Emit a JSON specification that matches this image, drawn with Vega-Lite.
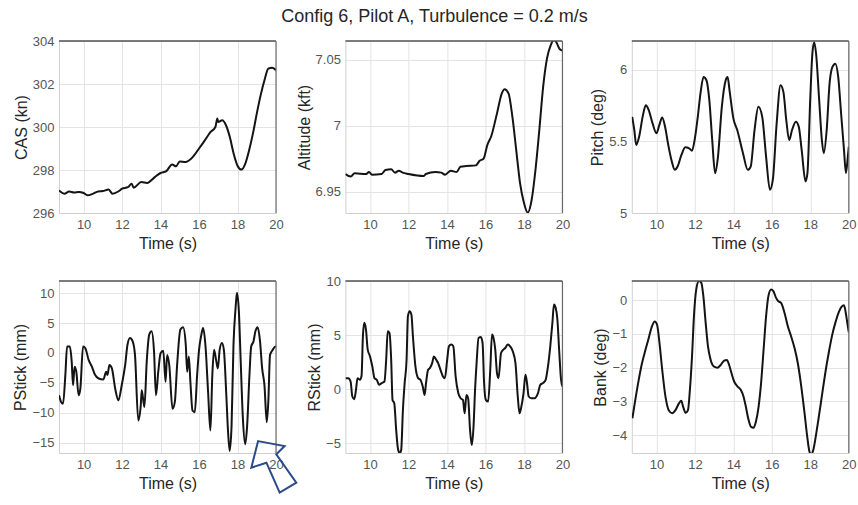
{
  "$schema": "https://vega.github.io/schema/vega-lite/v6.json",
  "background": "white",
  "padding": {"left": 12, "top": 8, "right": 2, "bottom": 2},
  "title": {"text": "Config 6, Pilot A, Turbulence = 0.2 m/s", "font": "Liberation Sans", "fontSize": 18, "fontWeight": "normal", "color": "#262626", "offset": 9, "anchor": "middle"},
  "config": {
    "view": {"stroke": null},
    "axis": {"labelFont": "Liberation Sans", "titleFont": "Liberation Sans", "labelFontSize": 13, "titleFontSize": 16, "labelColor": "#555555", "titleColor": "#262626", "titleFontWeight": "normal", "grid": true, "gridColor": "#e4e4e4", "domainColor": "#d0d0d0", "ticks": false, "tickSize": 0, "labelPadding": 5, "labelFlush": false, "labelOverlap": false, "labelSeparation": 0},
    "axisX": {"titlePadding": 4},
    "axisY": {"titlePadding": 3, "labelOverlap": false}
  },
  "datasets": {
    "cas": [{"t":8.72,"v":297.05},{"t":9.0,"v":296.9},{"t":9.25,"v":297.0},{"t":9.5,"v":296.95},{"t":9.75,"v":296.98},{"t":10,"v":296.93},{"t":10.2,"v":296.82},{"t":10.5,"v":296.9},{"t":10.75,"v":297.0},{"t":11,"v":297.02},{"t":11.3,"v":297.09},{"t":11.5,"v":296.9},{"t":11.8,"v":297.0},{"t":12,"v":297.13},{"t":12.3,"v":297.2},{"t":12.5,"v":297.36},{"t":12.6,"v":297.18},{"t":13,"v":297.44},{"t":13.3,"v":297.4},{"t":13.7,"v":297.67},{"t":14,"v":297.86},{"t":14.3,"v":297.95},{"t":14.6,"v":298.26},{"t":14.8,"v":298.17},{"t":15,"v":298.4},{"t":15.3,"v":298.37},{"t":15.6,"v":298.53},{"t":16,"v":299.0},{"t":16.3,"v":299.38},{"t":16.6,"v":299.77},{"t":16.85,"v":300.0},{"t":16.95,"v":300.39},{"t":17.0,"v":300.23},{"t":17.2,"v":300.31},{"t":17.4,"v":300.08},{"t":17.6,"v":299.53},{"t":17.8,"v":298.76},{"t":18.0,"v":298.2},{"t":18.2,"v":298.02},{"t":18.4,"v":298.29},{"t":18.6,"v":298.91},{"t":18.8,"v":299.69},{"t":19.0,"v":300.62},{"t":19.2,"v":301.47},{"t":19.4,"v":302.17},{"t":19.6,"v":302.71},{"t":19.8,"v":302.76},{"t":20.0,"v":302.64}],
    "alt": [{"t":8.72,"v":6.9635},{"t":9.0,"v":6.9615},{"t":9.2,"v":6.964},{"t":9.8,"v":6.9635},{"t":9.95,"v":6.965},{"t":10.1,"v":6.963},{"t":10.6,"v":6.9635},{"t":10.8,"v":6.9665},{"t":11.1,"v":6.967},{"t":11.3,"v":6.9645},{"t":11.5,"v":6.966},{"t":11.7,"v":6.9645},{"t":12.0,"v":6.9635},{"t":12.8,"v":6.962},{"t":12.9,"v":6.9635},{"t":13.4,"v":6.965},{"t":13.7,"v":6.9645},{"t":13.9,"v":6.963},{"t":14.2,"v":6.966},{"t":14.5,"v":6.965},{"t":14.7,"v":6.969},{"t":15.0,"v":6.9695},{"t":15.5,"v":6.97},{"t":15.7,"v":6.9735},{"t":15.9,"v":6.975},{"t":16.1,"v":6.9855},{"t":16.3,"v":6.992},{"t":16.6,"v":7.0093},{"t":16.85,"v":7.0244},{"t":17.0,"v":7.0275},{"t":17.2,"v":7.0244},{"t":17.4,"v":7.0068},{"t":17.6,"v":6.9816},{"t":17.8,"v":6.9564},{"t":18.0,"v":6.9418},{"t":18.2,"v":6.9343},{"t":18.4,"v":6.9438},{"t":18.6,"v":6.9665},{"t":18.8,"v":6.9967},{"t":19.0,"v":7.0295},{"t":19.2,"v":7.0509},{"t":19.4,"v":7.061},{"t":19.55,"v":7.065},{"t":19.7,"v":7.0627},{"t":19.85,"v":7.058},{"t":20.0,"v":7.0567}],
    "pitch": [{"t":8.74,"v":5.671},{"t":8.85,"v":5.579},{"t":8.95,"v":5.475},{"t":9.1,"v":5.532},{"t":9.3,"v":5.683},{"t":9.45,"v":5.752},{"t":9.6,"v":5.718},{"t":9.8,"v":5.625},{"t":10.0,"v":5.556},{"t":10.15,"v":5.613},{"t":10.3,"v":5.667},{"t":10.45,"v":5.602},{"t":10.6,"v":5.486},{"t":10.8,"v":5.359},{"t":10.95,"v":5.301},{"t":11.1,"v":5.324},{"t":11.3,"v":5.405},{"t":11.5,"v":5.458},{"t":11.7,"v":5.451},{"t":11.85,"v":5.435},{"t":12.0,"v":5.521},{"t":12.15,"v":5.671},{"t":12.3,"v":5.845},{"t":12.45,"v":5.949},{"t":12.6,"v":5.926},{"t":12.75,"v":5.787},{"t":12.9,"v":5.509},{"t":13.05,"v":5.278},{"t":13.2,"v":5.394},{"t":13.4,"v":5.741},{"t":13.6,"v":5.926},{"t":13.7,"v":5.949},{"t":13.8,"v":5.856},{"t":14.0,"v":5.66},{"t":14.2,"v":5.579},{"t":14.5,"v":5.417},{"t":14.75,"v":5.301},{"t":14.9,"v":5.324},{"t":15.1,"v":5.579},{"t":15.3,"v":5.741},{"t":15.5,"v":5.671},{"t":15.7,"v":5.394},{"t":15.9,"v":5.162},{"t":16.05,"v":5.231},{"t":16.25,"v":5.625},{"t":16.45,"v":5.891},{"t":16.6,"v":5.845},{"t":16.75,"v":5.648},{"t":16.9,"v":5.509},{"t":17.05,"v":5.579},{"t":17.25,"v":5.637},{"t":17.4,"v":5.602},{"t":17.55,"v":5.44},{"t":17.75,"v":5.22},{"t":17.85,"v":5.278},{"t":18.0,"v":5.81},{"t":18.1,"v":6.1},{"t":18.2,"v":6.192},{"t":18.3,"v":6.111},{"t":18.45,"v":5.81},{"t":18.6,"v":5.509},{"t":18.7,"v":5.417},{"t":18.85,"v":5.579},{"t":19.0,"v":5.903},{"t":19.15,"v":6.019},{"t":19.3,"v":6.042},{"t":19.45,"v":5.949},{"t":19.6,"v":5.694},{"t":19.75,"v":5.44},{"t":19.85,"v":5.278},{"t":19.95,"v":5.394},{"t":20.0,"v":5.463}],
    "pstick": [{"t":8.72,"v":-7.09},{"t":8.83,"v":-8.22},{"t":8.93,"v":-8.5},{"t":9.05,"v":-3.7},{"t":9.14,"v":1.09},{"t":9.28,"v":1.09},{"t":9.38,"v":-1.45},{"t":9.45,"v":-5.4},{"t":9.53,"v":-2.3},{"t":9.62,"v":-3.14},{"t":9.74,"v":-7.09},{"t":9.83,"v":-5.96},{"t":9.97,"v":1.09},{"t":10.09,"v":0.8},{"t":10.26,"v":-1.17},{"t":10.43,"v":-2.3},{"t":10.6,"v":-3.7},{"t":10.78,"v":-4.27},{"t":11.03,"v":-4.44},{"t":11.17,"v":-3.14},{"t":11.24,"v":-3.7},{"t":11.34,"v":-2.0},{"t":11.47,"v":-2.58},{"t":11.64,"v":-5.96},{"t":11.81,"v":-7.94},{"t":11.98,"v":-5.4},{"t":12.16,"v":-2.0},{"t":12.28,"v":1.37},{"t":12.41,"v":2.5},{"t":12.55,"v":1.93},{"t":12.67,"v":-0.32},{"t":12.84,"v":-11.3},{"t":12.97,"v":-8.78},{"t":13.02,"v":-6.24},{"t":13.16,"v":-9.06},{"t":13.28,"v":-1.45},{"t":13.41,"v":3.06},{"t":13.53,"v":3.63},{"t":13.66,"v":0.24},{"t":13.76,"v":-7.09},{"t":13.88,"v":-3.14},{"t":14.0,"v":-0.04},{"t":14.14,"v":0.36},{"t":14.26,"v":-4.83},{"t":14.34,"v":-0.32},{"t":14.45,"v":-2.0},{"t":14.62,"v":-9.35},{"t":14.74,"v":-8.22},{"t":14.86,"v":-2.0},{"t":15.03,"v":3.91},{"t":15.17,"v":4.3},{"t":15.31,"v":1.37},{"t":15.38,"v":-3.14},{"t":15.47,"v":-0.6},{"t":15.55,"v":-4.83},{"t":15.66,"v":-9.63},{"t":15.78,"v":-9.91},{"t":15.9,"v":-3.7},{"t":16.0,"v":0.52},{"t":16.12,"v":3.06},{"t":16.21,"v":4.19},{"t":16.33,"v":1.37},{"t":16.47,"v":-6.53},{"t":16.59,"v":-13.0},{"t":16.69,"v":-3.7},{"t":16.78,"v":0.52},{"t":16.9,"v":-1.45},{"t":16.98,"v":-2.58},{"t":17.07,"v":0.52},{"t":17.19,"v":1.65},{"t":17.29,"v":0.52},{"t":17.41,"v":-6.53},{"t":17.5,"v":-12.73},{"t":17.59,"v":-16.4},{"t":17.69,"v":-12.17},{"t":17.79,"v":1.37},{"t":17.9,"v":7.57},{"t":17.97,"v":10.1},{"t":18.07,"v":7.0},{"t":18.16,"v":-0.89},{"t":18.28,"v":-11.04},{"t":18.4,"v":-15.27},{"t":18.5,"v":-12.17},{"t":18.62,"v":-3.7},{"t":18.71,"v":1.09},{"t":18.83,"v":1.93},{"t":18.93,"v":3.63},{"t":19.05,"v":4.3},{"t":19.17,"v":1.93},{"t":19.28,"v":-2.58},{"t":19.4,"v":-5.4},{"t":19.52,"v":-11.6},{"t":19.6,"v":-8.22},{"t":19.69,"v":-0.32},{"t":19.83,"v":0.52},{"t":19.97,"v":1.09},{"t":20.0,"v":1.09}],
    "rstick": [{"t":8.73,"v":1.02},{"t":8.87,"v":1.02},{"t":8.99,"v":0.71},{"t":9.08,"v":-0.68},{"t":9.18,"v":-0.93},{"t":9.27,"v":-0.06},{"t":9.35,"v":1.02},{"t":9.48,"v":0.87},{"t":9.56,"v":1.24},{"t":9.63,"v":4.89},{"t":9.7,"v":6.13},{"t":9.79,"v":5.51},{"t":9.88,"v":3.65},{"t":10.0,"v":3.03},{"t":10.12,"v":2.1},{"t":10.23,"v":1.02},{"t":10.35,"v":0.87},{"t":10.47,"v":0.4},{"t":10.61,"v":0.56},{"t":10.75,"v":0.71},{"t":10.84,"v":2.72},{"t":10.92,"v":5.36},{"t":11.01,"v":5.2},{"t":11.1,"v":2.72},{"t":11.17,"v":-0.99},{"t":11.26,"v":-1.3},{"t":11.36,"v":-3.78},{"t":11.45,"v":-5.48},{"t":11.54,"v":-5.94},{"t":11.62,"v":-5.63},{"t":11.71,"v":-1.92},{"t":11.8,"v":0.56},{"t":11.9,"v":2.72},{"t":11.97,"v":6.75},{"t":12.06,"v":7.21},{"t":12.15,"v":6.9},{"t":12.23,"v":4.89},{"t":12.36,"v":2.1},{"t":12.5,"v":1.02},{"t":12.62,"v":0.87},{"t":12.74,"v":0.25},{"t":12.84,"v":-0.53},{"t":12.91,"v":0.56},{"t":13.02,"v":1.8},{"t":13.11,"v":1.95},{"t":13.23,"v":2.41},{"t":13.32,"v":3.03},{"t":13.44,"v":2.72},{"t":13.54,"v":2.41},{"t":13.66,"v":1.8},{"t":13.79,"v":1.18},{"t":13.89,"v":1.02},{"t":14.01,"v":2.72},{"t":14.1,"v":3.96},{"t":14.22,"v":4.12},{"t":14.33,"v":3.96},{"t":14.45,"v":1.18},{"t":14.59,"v":-0.37},{"t":14.71,"v":-0.84},{"t":14.83,"v":-0.99},{"t":14.92,"v":-2.23},{"t":15.01,"v":-0.53},{"t":15.1,"v":-0.84},{"t":15.2,"v":-3.78},{"t":15.29,"v":-5.17},{"t":15.38,"v":-3.47},{"t":15.46,"v":-0.06},{"t":15.55,"v":2.72},{"t":15.64,"v":4.74},{"t":15.76,"v":4.83},{"t":15.85,"v":4.27},{"t":15.93,"v":0.56},{"t":16.02,"v":-0.99},{"t":16.14,"v":-1.15},{"t":16.25,"v":1.8},{"t":16.34,"v":5.05},{"t":16.42,"v":4.74},{"t":16.51,"v":3.65},{"t":16.6,"v":1.49},{"t":16.68,"v":1.02},{"t":16.81,"v":3.34},{"t":16.93,"v":3.65},{"t":17.03,"v":3.81},{"t":17.16,"v":4.12},{"t":17.28,"v":3.96},{"t":17.42,"v":3.5},{"t":17.56,"v":2.41},{"t":17.68,"v":-0.68},{"t":17.77,"v":-2.23},{"t":17.85,"v":-1.76},{"t":17.98,"v":-0.37},{"t":18.08,"v":1.33},{"t":18.15,"v":0.71},{"t":18.25,"v":-0.68},{"t":18.38,"v":-0.84},{"t":18.55,"v":-0.84},{"t":18.73,"v":-0.37},{"t":18.85,"v":0.4},{"t":18.99,"v":0.56},{"t":19.13,"v":0.87},{"t":19.25,"v":2.1},{"t":19.37,"v":3.96},{"t":19.48,"v":6.13},{"t":19.56,"v":7.83},{"t":19.65,"v":7.52},{"t":19.74,"v":6.44},{"t":19.83,"v":3.65},{"t":19.93,"v":0.87},{"t":20.0,"v":0.25}],
    "bank": [{"t":8.75,"v":-3.5},{"t":8.9,"v":-2.96},{"t":9.08,"v":-2.36},{"t":9.25,"v":-1.87},{"t":9.43,"v":-1.47},{"t":9.6,"v":-1.12},{"t":9.77,"v":-0.77},{"t":9.91,"v":-0.63},{"t":10.03,"v":-0.72},{"t":10.16,"v":-1.27},{"t":10.3,"v":-2.06},{"t":10.47,"v":-2.86},{"t":10.64,"v":-3.26},{"t":10.82,"v":-3.35},{"t":10.99,"v":-3.26},{"t":11.17,"v":-3.06},{"t":11.29,"v":-2.98},{"t":11.39,"v":-3.16},{"t":11.52,"v":-3.34},{"t":11.64,"v":-3.26},{"t":11.74,"v":-2.66},{"t":11.85,"v":-1.67},{"t":11.95,"v":-0.48},{"t":12.07,"v":0.32},{"t":12.21,"v":0.57},{"t":12.33,"v":0.52},{"t":12.44,"v":0.12},{"t":12.56,"v":-0.67},{"t":12.68,"v":-1.37},{"t":12.82,"v":-1.77},{"t":13.0,"v":-1.97},{"t":13.17,"v":-2.0},{"t":13.34,"v":-1.92},{"t":13.52,"v":-1.79},{"t":13.66,"v":-1.77},{"t":13.78,"v":-1.92},{"t":13.9,"v":-2.16},{"t":14.04,"v":-2.41},{"t":14.22,"v":-2.56},{"t":14.39,"v":-2.66},{"t":14.53,"v":-2.86},{"t":14.65,"v":-3.16},{"t":14.77,"v":-3.5},{"t":14.91,"v":-3.75},{"t":15.05,"v":-3.78},{"t":15.17,"v":-3.6},{"t":15.31,"v":-3.16},{"t":15.44,"v":-2.46},{"t":15.57,"v":-1.47},{"t":15.7,"v":-0.48},{"t":15.82,"v":0.12},{"t":15.96,"v":0.32},{"t":16.08,"v":0.27},{"t":16.22,"v":0.07},{"t":16.34,"v":-0.03},{"t":16.48,"v":-0.08},{"t":16.66,"v":-0.38},{"t":16.83,"v":-0.77},{"t":17.0,"v":-1.07},{"t":17.18,"v":-1.42},{"t":17.35,"v":-1.87},{"t":17.53,"v":-2.56},{"t":17.7,"v":-3.35},{"t":17.84,"v":-4.05},{"t":17.96,"v":-4.5},{"t":18.05,"v":-4.57},{"t":18.15,"v":-4.45},{"t":18.28,"v":-4.05},{"t":18.43,"v":-3.5},{"t":18.61,"v":-2.8},{"t":18.78,"v":-2.15},{"t":18.96,"v":-1.55},{"t":19.13,"v":-1.05},{"t":19.31,"v":-0.65},{"t":19.48,"v":-0.35},{"t":19.62,"v":-0.2},{"t":19.75,"v":-0.15},{"t":19.85,"v":-0.4},{"t":19.93,"v":-0.7},{"t":20.0,"v":-0.95}],
    "arrow": [{"t": 19.88, "v": -19.07}]
  },
  "columns": 3,
  "spacing": {"row": 68, "column": 69.4},
  "bounds": "flush",
  "concat": [
    {
      "width": 217, "height": 172,
      "layer": [
        {"data": {"name": "cas"}, "mark": {"type": "line", "color": "#141414", "strokeWidth": 2, "interpolate": "monotone", "clip": true},
         "encoding": {
           "x": {"field": "t", "type": "quantitative", "scale": {"domain": [8.72, 20], "nice": false, "zero": false}, "axis": {"title": "Time (s)", "values": [10, 12, 14, 16, 18, 20], "labelOverlap": false}},
           "y": {"field": "v", "type": "quantitative", "scale": {"domain": [296, 304], "nice": false, "zero": false}, "axis": {"title": "CAS (kn)", "values": [296, 298, 300, 302, 304], "format": "~r", "labelOverlap": false}}}},
        {"data": {"values": [{}]}, "mark": {"type": "rule", "color": "#505050", "strokeWidth": 1.3}, "encoding": {"y": {"datum": 304}}},
        {"data": {"values": [{}]}, "mark": {"type": "rule", "color": "#606060", "strokeWidth": 1.1}, "encoding": {"x": {"datum": 20}}}
      ]
    },
    {
      "width": 217, "height": 172,
      "layer": [
        {"data": {"name": "alt"}, "mark": {"type": "line", "color": "#141414", "strokeWidth": 2, "interpolate": "monotone", "clip": true},
         "encoding": {
           "x": {"field": "t", "type": "quantitative", "scale": {"domain": [8.72, 20], "nice": false, "zero": false}, "axis": {"title": "Time (s)", "values": [10, 12, 14, 16, 18, 20], "labelOverlap": false}},
           "y": {"field": "v", "type": "quantitative", "scale": {"domain": [6.934, 7.064], "nice": false, "zero": false}, "axis": {"title": "Altitude (kft)", "values": [6.95, 7, 7.05], "format": "~r", "labelOverlap": false}}}},
        {"data": {"values": [{}]}, "mark": {"type": "rule", "color": "#505050", "strokeWidth": 1.3}, "encoding": {"y": {"datum": 7.064}}},
        {"data": {"values": [{}]}, "mark": {"type": "rule", "color": "#606060", "strokeWidth": 1.1}, "encoding": {"x": {"datum": 20}}}
      ]
    },
    {
      "width": 217, "height": 172,
      "layer": [
        {"data": {"name": "pitch"}, "mark": {"type": "line", "color": "#141414", "strokeWidth": 2, "interpolate": "monotone", "clip": true},
         "encoding": {
           "x": {"field": "t", "type": "quantitative", "scale": {"domain": [8.72, 20], "nice": false, "zero": false}, "axis": {"title": "Time (s)", "values": [10, 12, 14, 16, 18, 20], "labelOverlap": false}},
           "y": {"field": "v", "type": "quantitative", "scale": {"domain": [5, 6.2], "nice": false, "zero": false}, "axis": {"title": "Pitch (deg)", "values": [5, 5.5, 6], "format": "~r", "labelOverlap": false}}}},
        {"data": {"values": [{}]}, "mark": {"type": "rule", "color": "#505050", "strokeWidth": 1.3}, "encoding": {"y": {"datum": 6.2}}},
        {"data": {"values": [{}]}, "mark": {"type": "rule", "color": "#606060", "strokeWidth": 1.1}, "encoding": {"x": {"datum": 20}}}
      ]
    },
    {
      "width": 217, "height": 172,
      "layer": [
        {"data": {"name": "pstick"}, "mark": {"type": "line", "color": "#141414", "strokeWidth": 2, "interpolate": "monotone", "clip": true},
         "encoding": {
           "x": {"field": "t", "type": "quantitative", "scale": {"domain": [8.72, 20], "nice": false, "zero": false}, "axis": {"title": "Time (s)", "values": [10, 12, 14, 16, 18, 20], "labelOverlap": false}},
           "y": {"field": "v", "type": "quantitative", "scale": {"domain": [-16.75, 12.05], "nice": false, "zero": false}, "axis": {"title": "PStick (mm)", "values": [-15, -10, -5, 0, 5, 10], "tickCount": 6, "labelOverlap": false, "labelSeparation": 0, "labelBound": false}}}},
        {"data": {"values": [{}]}, "mark": {"type": "rule", "color": "#505050", "strokeWidth": 1.3}, "encoding": {"y": {"datum": 12.05, "axis": {"title": "PStick (mm)", "values": [-15, -10, -5, 0, 5, 10], "tickCount": 6, "labelOverlap": false, "labelSeparation": 0, "labelBound": false}}}},
        {"data": {"values": [{}]}, "mark": {"type": "rule", "color": "#606060", "strokeWidth": 1.1}, "encoding": {"x": {"datum": 20}}},
        {"data": {"name": "arrow"}, "mark": {"type": "point", "shape": "M -0.6 -0.99 L 0.42 -0.8 L 0.1 -0.48 L 0.87 0.61 L 0.23 0.99 L -0.28 -0.16 L -0.86 0.03 Z", "size": 2704, "filled": false, "stroke": "#2b4a8b", "strokeWidth": 2, "opacity": 1, "strokeJoin": "miter"},
         "encoding": {
           "x": {"field": "t", "type": "quantitative", "axis": {"title": "Time (s)", "values": [10, 12, 14, 16, 18, 20], "labelOverlap": false}},
           "y": {"field": "v", "type": "quantitative", "axis": {"title": "PStick (mm)", "values": [-15, -10, -5, 0, 5, 10], "tickCount": 6, "labelOverlap": false, "labelSeparation": 0, "labelBound": false}}}}
      ]
    },
    {
      "width": 217, "height": 172,
      "layer": [
        {"data": {"name": "rstick"}, "mark": {"type": "line", "color": "#141414", "strokeWidth": 2, "interpolate": "monotone", "clip": true},
         "encoding": {
           "x": {"field": "t", "type": "quantitative", "scale": {"domain": [8.72, 20], "nice": false, "zero": false}, "axis": {"title": "Time (s)", "values": [10, 12, 14, 16, 18, 20], "labelOverlap": false}},
           "y": {"field": "v", "type": "quantitative", "scale": {"domain": [-5.9, 10], "nice": false, "zero": false}, "axis": {"title": "RStick (mm)", "values": [-5, 0, 5, 10], "format": "~r", "labelOverlap": false}}}},
        {"data": {"values": [{}]}, "mark": {"type": "rule", "color": "#505050", "strokeWidth": 1.3}, "encoding": {"y": {"datum": 10}}},
        {"data": {"values": [{}]}, "mark": {"type": "rule", "color": "#606060", "strokeWidth": 1.1}, "encoding": {"x": {"datum": 20}}}
      ]
    },
    {
      "width": 217, "height": 172,
      "layer": [
        {"data": {"name": "bank"}, "mark": {"type": "line", "color": "#141414", "strokeWidth": 2, "interpolate": "monotone", "clip": true},
         "encoding": {
           "x": {"field": "t", "type": "quantitative", "scale": {"domain": [8.72, 20], "nice": false, "zero": false}, "axis": {"title": "Time (s)", "values": [10, 12, 14, 16, 18, 20], "labelOverlap": false}},
           "y": {"field": "v", "type": "quantitative", "scale": {"domain": [-4.53, 0.57], "nice": false, "zero": false}, "axis": {"title": "Bank (deg)", "values": [-4, -3, -2, -1, 0], "format": "~r", "labelOverlap": false}}}},
        {"data": {"values": [{}]}, "mark": {"type": "rule", "color": "#505050", "strokeWidth": 1.3}, "encoding": {"y": {"datum": 0.57}}},
        {"data": {"values": [{}]}, "mark": {"type": "rule", "color": "#606060", "strokeWidth": 1.1}, "encoding": {"x": {"datum": 20}}}
      ]
    }
  ]
}
